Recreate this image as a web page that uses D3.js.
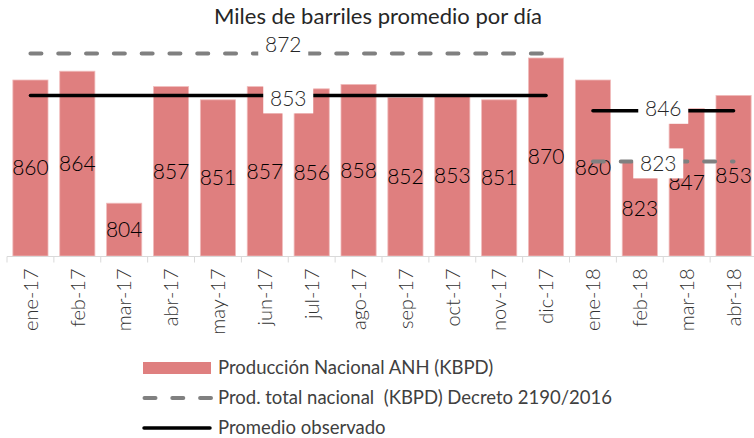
<!DOCTYPE html>
<html>
<head>
<meta charset="utf-8">
<script src="https://cdn.jsdelivr.net/npm/d3@7"></script>
<style>
  body { margin: 0; background: #fff; }
  svg { display: block; }
</style>
</head>
<body>
<div id="chart"></div>
<script>
// data
var categories = ["ene-17", "feb-17", "mar-17", "abr-17", "may-17", "jun-17", "jul-17", "ago-17",
                  "sep-17", "oct-17", "nov-17", "dic-17", "ene-18", "feb-18", "mar-18", "abr-18"];
var production = [860, 864, 804, 857, 851, 857, 856, 858, 852, 853, 851, 870, 860, 823, 847, 853];
var decreeTargets = [
  { from: "ene-17", to: "dic-17", value: 872 },
  { from: "ene-18", to: "abr-18", value: 823 }
];
var observedAverages = [
  { from: "ene-17", to: "dic-17", value: 853 },
  { from: "ene-18", to: "abr-18", value: 846 }
];
var yDomain = [780, 880];
var legendLabels = ["Producción Nacional ANH (KBPD)",
                    "Prod. total nacional  (KBPD) Decreto 2190/2016",
                    "Promedio observado"];
var title = "Miles de barriles promedio por día";

var width = 754, height = 438;
var font = "Lato, 'Open Sans', sans-serif";

var svg = d3.select("#chart").append("svg")
    .attr("width", width)
    .attr("height", height)
    .style("font-family", font);

var x = d3.scaleBand()
  .domain(categories)
  .range([7, 757])
  .paddingInner(0.25)
  .paddingOuter(0.125);

var y = d3.scaleLinear()
  .domain(yDomain)
  .range([256, 36]);

var cx = d => x(d) + x.bandwidth() / 2;

// title
svg.append("text")
  .attr("x", 378)
  .attr("y", 24)
  .attr("text-anchor", "middle")
  .attr("font-size", 22)
  .attr("fill", "#262626")
  .text(title);

// bars
var rows = categories.map((c, i) => ({ cat: c, value: production[i] }));

svg.append("g").selectAll("rect")
  .data(rows)
  .enter().append("rect")
    .attr("x", d => x(d.cat))
    .attr("y", d => y(d.value))
    .attr("width", x.bandwidth())
    .attr("height", d => y(yDomain[0]) - y(d.value))
    .attr("fill", "#df7f7f")
    .attr("stroke", "#f0bcbc")
    .attr("stroke-width", 0.8);

svg.append("g").selectAll("text")
  .data(rows)
  .enter().append("text")
    .attr("x", d => cx(d.cat))
    .attr("y", d => (y(d.value) + y(yDomain[0])) / 2)
    .attr("dy", "0.35em")
    .attr("text-anchor", "middle")
    .attr("font-size", 21)
    .attr("font-weight", 300)
    .attr("fill", "#000")
    .text(d => d.value);

// x axis
var axisG = svg.append("g")
  .attr("transform", "translate(0,256.5)");

axisG.append("line")
  .attr("x1", 7).attr("x2", 757)
  .attr("stroke", "#d9d9d9");

axisG.selectAll(".bound")
  .data(categories.concat([null]))
  .enter().append("line")
    .attr("class", "bound")
    .attr("x1", d => d === null ? 757 : x(d) - x.step() * x.paddingInner() / 2)
    .attr("x2", d => d === null ? 757 : x(d) - x.step() * x.paddingInner() / 2)
    .attr("y1", 0).attr("y2", 6)
    .attr("stroke", "#d9d9d9");

var xAxis = d3.axisBottom(x).tickSize(0);
var ax = svg.append("g")
  .attr("transform", "translate(0,256.5)")
  .call(xAxis);
ax.select(".domain").remove();
ax.selectAll("text")
  .attr("transform", "rotate(-90)")
  .attr("x", -12)
  .attr("y", 0)
  .attr("dy", "0.36em")
  .style("text-anchor", "end")
  .style("font-family", font)
  .style("font-size", "20px")
  .style("font-weight", 300)
  .attr("fill", "#333");

// reference lines
function drawSegments(list, opts) {
  var g = svg.append("g");
  g.selectAll("line")
    .data(list)
    .enter().append("line")
      .attr("x1", d => cx(d.from))
      .attr("x2", d => cx(d.to))
      .attr("y1", d => y(d.value))
      .attr("y2", d => y(d.value))
      .attr("stroke", opts.color)
      .attr("stroke-width", opts.width)
      .attr("stroke-linecap", "round")
      .attr("stroke-dasharray", opts.dash);
  return g;
}

var dashed = drawSegments(decreeTargets, { color: "#808080", width: 4, dash: "11,16.8" });
var solid = drawSegments(observedAverages, { color: "#000", width: 3.5, dash: null });

// line labels with white boxes
function labelSegments(list, dx, dyFn) {
  var lg = svg.append("g").selectAll("g")
    .data(list)
    .enter().append("g")
      .attr("transform", (d, i) => `translate(${(cx(d.from) + cx(d.to)) / 2 + dx},${y(d.value) + dyFn(d, i)})`);
  lg.append("rect")
    .attr("x", -25).attr("y", -15)
    .attr("width", 50).attr("height", 30)
    .attr("fill", "#fff");
  lg.append("text")
    .attr("text-anchor", "middle")
    .attr("dy", "0.35em")
    .attr("font-size", 21)
    .attr("font-weight", 300)
    .attr("fill", "#262626")
    .text(d => d.value);
}

labelSegments(decreeTargets, -5, (d, i) => i === 0 ? -9 : 2);
labelSegments(observedAverages, 0, (d, i) => i === 0 ? 3 : -2);

// legend
var legend = svg.append("g").attr("transform", "translate(143,0)");
var ly = [368, 398, 428];

legend.append("rect")
  .attr("x", 0).attr("y", ly[0] - 6)
  .attr("width", 68).attr("height", 12)
  .attr("fill", "#df7f7f");

legend.append("line")
  .attr("x1", 1.5).attr("x2", 68)
  .attr("y1", ly[1]).attr("y2", ly[1])
  .attr("stroke", "#808080")
  .attr("stroke-width", 4)
  .attr("stroke-linecap", "round")
  .attr("stroke-dasharray", "11,16.8");

legend.append("line")
  .attr("x1", 1).attr("x2", 67)
  .attr("y1", ly[2]).attr("y2", ly[2])
  .attr("stroke", "#000")
  .attr("stroke-width", 3.5)
  .attr("stroke-linecap", "round");

legend.selectAll(".lab")
  .data(legendLabels)
  .enter().append("text")
    .attr("class", "lab")
    .attr("x", 75)
    .attr("y", (d, i) => ly[i])
    .attr("dy", "0.35em")
    .attr("font-size", 18.5)
    .attr("fill", "#404040")
    .style("white-space", "pre")
    .text(d => d);
</script>
</body>
</html>
